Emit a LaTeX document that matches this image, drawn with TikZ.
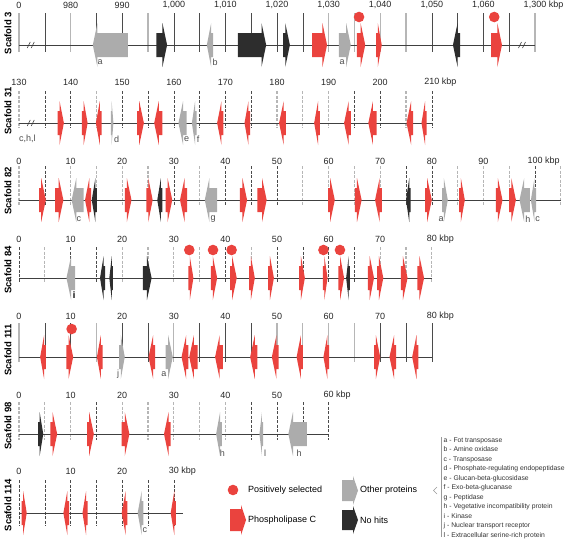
\documentclass[tikz,border=0pt]{standalone}
\usepackage{fontspec}
\setmainfont{Liberation Sans}
\usetikzlibrary{calc}

\definecolor{plcred}{RGB}{234,67,62}
\definecolor{othergray}{RGB}{172,172,172}
\definecolor{nohit}{RGB}{45,45,45}
\definecolor{tickgray}{RGB}{182,182,182}
\definecolor{tickdark}{RGB}{75,75,75}

\tikzset{
  plc/.style={fill=plcred},
  oth/.style={fill=othergray},
  nh/.style={fill=nohit},
  tickg/.style={draw=tickgray, line width=1.1pt},
  tickd/.style={draw=tickdark, line width=0.5pt},
  tk/.style={},
  num/.style={font=\fontsize{9}{10}\selectfont, text=black!85, inner sep=0pt},
  glabel/.style={font=\fontsize{9}{10}\selectfont, text=black!70, inner sep=0pt},
  scafname/.style={font=\bfseries\fontsize{9.5}{10}\selectfont, rotate=90, inner sep=0pt},
  axisline/.style={draw=black!75, line width=0.7pt},
  legtext/.style={font=\fontsize{9}{10}\selectfont, anchor=west, inner sep=0pt},
}

% one gene: start, tip, style (x in kbp, y in px)
\newcommand{\gene}[3]{%
  \pgfmathsetmacro{\genebase}{#2-sign(#2-#1)*min(0.9,0.7*abs(#2-#1))}
  \fill[#3] (#1,-12) -- (\genebase,-12) -- (\genebase,-22) -- (#2,0)
    -- (\genebase,22) -- (\genebase,12) -- (#1,12) -- cycle;}
\newcommand{\possel}[1]{\fill[plcred] (#1,-28) circle (5.3pt);}
\newcommand{\scafbreak}[1]{%
  \draw[black!80, line width=0.6pt] (#1,3) -- ++(3pt,6pt) (#1,3) ++(4pt,0) -- ++(3pt,6pt);}

\begin{document}
\begin{tikzpicture}[x=1pt,y=-1pt]
\useasboundingbox (0,0) rectangle (567,541);

% Scaffold 3
\begin{scope}[shift={(19,45)}, x=5.16pt]
  \foreach \k/\c in {0/g,5/d,10/g,15/d,20/d,25/g,30/d,35/d,40/d,45/d,50/d,
                     55/d,60/g,65/g,70/g,75/g,80/d,85/d,90/d,95/d,100/g}
    \draw[tick\c] (\k,-32) -- (\k,7);
  \foreach \k/\t in {0/0,10/980,20/990,30/{1,000},40/{1,010},50/{1,020},
                     60/{1,030},70/{1,040},80/{1,050},90/{1,060}}
    \node[num] at (\k,-40) {\t};
  \node[num] at (100,-40) {1,300\rlap{ kbp}};
  \draw[axisline] (0,0) -- (100,0);
  \scafbreak{1.6} \scafbreak{96.8}
  \foreach \a/\b/\s in {21.1/14.3/oth, 26.6/28.7/nh, 37.6/36.4/oth, 42.4/47.9/nh,
                        51.2/52.5/nh, 56.8/59.7/plc, 62.0/64.3/oth, 65.5/67.1/plc,
                        69.2/70.3/plc, 85.5/84.1/nh, 91.5/93.6/plc}
    \gene{\a}{\b}{\s};
  \possel{65.9} \possel{92.1}
  \foreach \k/\t in {15.7/a, 38.0/b, 62.6/a}
    \node[glabel] at (\k,17) {\t};
  \node[scafname] at (-11pt,-12) {Scafold 3};
\end{scope}

% Scaffold 31
\begin{scope}[shift={(19,123)}, x=5.16pt, tk/.style={dash pattern=on 3pt off 1.5pt}]
  \foreach \k/\c in {0/g,5/d,10/d,15/g,20/d,25/d,30/d,35/d,40/d,45/d,50/g,
                     55/g,60/g,65/d,70/d,75/g,80/d}
    \draw[tick\c, tk] (\k,-32) -- (\k,5);
  \foreach \k in {0,10,...,70}
    \pgfmathtruncatemacro{\lab}{130+\k}
    \node[num] at (\k,-41) {\lab};
  \node[num] at (80,-41) {210\rlap{ kbp}};
  \draw[axisline] (0,0) -- (80,0);
  \scafbreak{1.6}
  \foreach \a/\b/\s in {7.5/8.7/plc, 12.2/13.3/plc, 16.0/14.9/plc, 17.8/18.3/oth,
                        22.9/24.2/plc, 27.8/26.2/plc, 32.5/30.9/oth, 34.4/33.5/oth,
                        39.6/38.4/plc, 44.8/43.7/plc, 51.7/50.4/plc, 58.3/57.2/plc,
                        64.3/63.0/plc, 69.3/67.7/plc, 76.4/75.1/plc, 79.0/78.0/plc}
    \gene{\a}{\b}{\s};
  \node[glabel, anchor=west] at (0,16) {c,h,l};
  \foreach \k/\t in {18.9/d, 32.5/e, 34.7/f}
    \node[glabel] at (\k,16) {\t};
  \node[scafname] at (-11pt,-12) {Scafold 31};
\end{scope}

% Scaffold 82
\begin{scope}[shift={(19,200)}, x=5.16pt, tk/.style={dash pattern=on 3pt off 1.5pt}]
  \foreach \k/\c in {0/g,5/d,10/g,15/g,20/g,25/g,30/d,35/g,40/d,45/d,50/d,55/g,
                     60/g,65/g,70/g,75/d,80/d,85/g,90/g,95/g,100/d,105/g}
    \draw[tick\c, tk] (\k,-34) -- (\k,5);
  \foreach \k in {0,10,...,90}
    \node[num] at (\k,-39) {\k};
  \node[num] at (100,-39) {100\rlap{ kbp}};
  \draw[axisline] (0,0) -- (105,0);
  \foreach \a/\b/\s in {3.9/5.2/plc, 7.0/8.6/plc, 12.5/10.2/oth, 14.0/12.8/plc,
                        15.1/14.1/nh, 20.5/21.8/plc, 24.7/25.9/plc, 27.8/26.8/nh,
                        28.4/29.7/plc, 32.6/31.2/plc, 38.4/36.0/oth, 42.8/44.2/plc,
                        46.2/48.0/plc, 59.9/61.2/plc, 65.1/66.4/plc, 70.3/69.0/plc,
                        75.9/75.0/nh, 78.7/80.0/plc, 82.0/83.1/oth, 85.3/86.4/plc,
                        92.4/93.7/plc, 95.0/96.3/plc, 99.0/97.0/oth, 100.2/99.2/oth}
    \gene{\a}{\b}{\s};
  \foreach \k/\t in {11.6/c, 37.6/g, 81.8/a, 98.6/h, 100.5/c}
    \node[glabel] at (\k,19) {\t};
  \node[scafname] at (-11pt,-9) {Scafold 82};
\end{scope}

% Scaffold 84
\begin{scope}[shift={(19,278)}, x=5.16pt, tk/.style={dash pattern=on 3pt off 1.5pt}]
  \foreach \k/\c in {0/d,5/g,10/d,15/d,20/g,25/g,30/g,35/g,40/d,45/g,50/d,
                     55/d,60/d,65/d,70/g,75/g,80/g}
    \draw[tick\c, tk] (\k,-31) -- (\k,5);
  \foreach \k in {0,10,...,70}
    \node[num] at (\k,-39) {\k};
  \node[num] at (80,-39) {80\rlap{ kbp}};
  \draw[axisline] (0,0) -- (80,0);
  \foreach \a/\b/\s in {10.9/9.2/oth, 16.7/15.7/nh, 18.2/17.5/nh, 24.0/25.7/nh,
                        32.8/33.8/plc, 37.2/38.4/plc, 40.9/42.2/plc, 44.6/45.7/plc,
                        48.3/49.4/plc, 54.3/55.4/plc, 58.9/59.8/plc, 61.9/63.0/plc,
                        64.1/63.4/nh, 67.6/68.8/plc, 69.4/70.6/plc, 74.0/75.3/plc,
                        77.2/78.5/plc}
    \gene{\a}{\b}{\s};
  \foreach \k in {33.0, 37.6, 41.2, 59.0, 62.2}
    \possel{\k}
  \node[glabel] at (10.7,17) {i};
  \node[scafname] at (-11pt,-8) {Scafold 84};
\end{scope}

% Scaffold 111
\begin{scope}[shift={(19,357)}, x=5.16pt]
  \foreach \k/\c in {0/g,5/d,10/d,15/g,20/d,25/d,30/g,35/d,40/d,45/d,50/g,
                     55/g,60/g,65/g,70/d,75/d,80/d}
    \draw[tick\c] (\k,-34) -- (\k,5);
  \foreach \k in {0,10,...,70}
    \node[num] at (\k,-41) {\k};
  \node[num] at (80,-41) {80\rlap{ kbp}};
  \draw[axisline] (0,0) -- (80,0);
  \foreach \a/\b/\s in {5.2/4.1/plc, 9.2/10.5/plc, 16.2/15.1/plc, 19.4/20.5/oth,
                        26.4/25.1/plc, 28.4/29.8/oth, 32.8/31.5/plc, 34.6/33.0/plc,
                        39.5/38.0/plc, 46.2/44.8/plc, 50.3/49.0/plc, 55.0/53.8/plc,
                        60.1/59.0/plc, 68.8/70.0/plc, 73.1/71.8/plc, 77.4/76.2/plc}
    \gene{\a}{\b}{\s};
  \possel{10.2}
  \foreach \k/\t in {19.2/j, 28.1/a}
    \node[glabel] at (\k,17) {\t};
  \node[scafname] at (-11pt,-7) {Scafold 111};
\end{scope}

% Scaffold 98
\begin{scope}[shift={(19,434)}, x=5.16pt, tk/.style={dash pattern=on 3pt off 1.5pt}]
  \foreach \k/\c in {0/g,5/g,10/g,15/d,20/g,25/g,30/g,35/g,40/g,45/d,50/d,55/d,60/d}
    \draw[tick\c, tk] (\k,-32) -- (\k,6);
  \foreach \k in {0,10,...,50}
    \node[num] at (\k,-39) {\k};
  \node[num] at (60,-39) {60\rlap{ kbp}};
  \draw[axisline] (0,0) -- (60,0);
  \foreach \a/\b/\s in {3.7/4.7/nh, 6.1/7.4/plc, 13.2/14.5/plc, 19.9/21.4/plc,
                        29.4/28.1/plc, 39.3/38.2/oth, 47.3/46.6/oth, 55.8/52.2/oth}
    \gene{\a}{\b}{\s};
  \foreach \k/\t in {39.4/h, 47.7/l, 54.3/h}
    \node[glabel] at (\k,19) {\t};
  \node[scafname] at (-11pt,-8) {Scafold 98};
\end{scope}

% Scaffold 114
\begin{scope}[shift={(19,513)}, x=5.16pt, tk/.style={dash pattern=on 3pt off 1.5pt}]
  \foreach \k in {0,5,...,30}
    \draw[tickd, tk] (\k,-33) -- (\k,13);
  \foreach \k in {0,10,20}
    \node[num] at (\k,-42) {\k};
  \node[num] at (30,-42) {30\rlap{ kbp}};
  \draw[axisline] (0,0) -- (31.8,0);
  \foreach \a/\b/\s in {0.5/1.5/plc, 9.7/8.6/plc, 13.3/12.3/plc, 21.0/19.9/plc,
                        24.1/23.0/oth, 30.4/29.4/plc}
    \gene{\a}{\b}{\s};
  \node[glabel] at (24.4,17) {c};
  \node[scafname] at (-11pt,-8) {Scafold 114};
\end{scope}

% legend
\fill[plcred] (233,490) circle (5.3pt);
\node[legtext] at (248,490) {Positively selected};
\fill[plc] (230,509) -- (241,509) -- (241,505) -- (246,520) -- (241,535)
  -- (241,531) -- (230,531) -- cycle;
\node[legtext] at (248,520) {Phospholipase C};
\fill[oth] (342,480) -- (353,480) -- (353,476) -- (358,490.5) -- (353,505)
  -- (353,501) -- (342,501) -- cycle;
\node[legtext] at (360,490.5) {Other proteins};
\fill[nh] (342,510) -- (353,510) -- (353,506) -- (358,520) -- (353,534)
  -- (353,530) -- (342,530) -- cycle;
\node[legtext] at (360,520) {No hits};

% key to the other proteins
\draw[black!40, line width=0.5pt] (441,437) -- (441,537);
\draw[black!40, line width=0.5pt] (437,487) -- (433.5,490.5) -- (437,494);
\node[anchor=north west, inner sep=0pt, align=left, text=black!80,
      font=\fontsize{6.8}{9.5}\selectfont] at (443.5,437.5)
  {a - Fot transposase\\ b - Amine oxidase\\ c - Transposase\\
   d - Phosphate-regulating endopeptidase\\ e - Glucan-beta-glucosidase\\
   f - Exo-beta-glucanase\\ g - Peptidase\\ h - Vegetative incompatibility protein\\
   i - Kinase\\ j - Nuclear transport receptor\\ l - Extracellular serine-rich protein};
\end{tikzpicture}
\end{document}
